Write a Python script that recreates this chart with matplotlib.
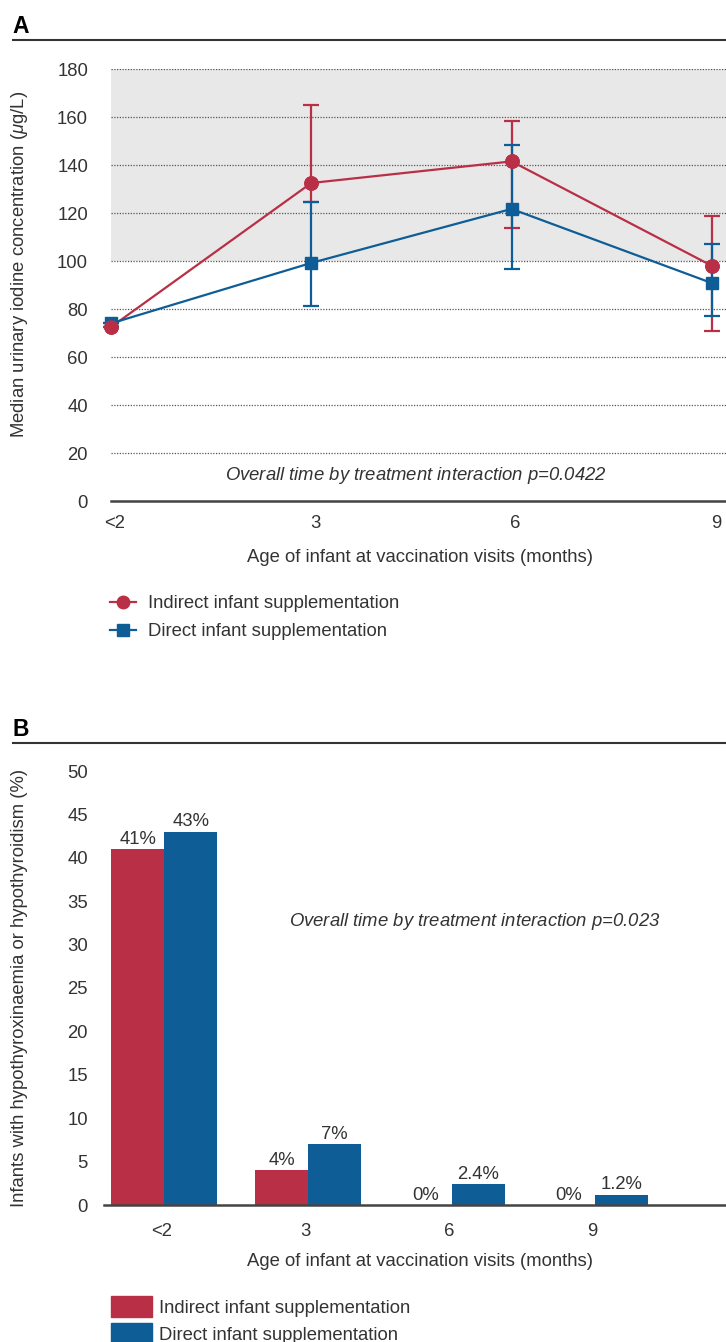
#iodine status of infants by supplementation arm: panel A medians, panel B prevalence

#import necessary
import matplotlib
matplotlib.use('Agg')
from matplotlib import pyplot as plt
from matplotlib.lines import Line2D
from matplotlib.patches import Patch
from matplotlib.transforms import ScaledTranslation

#visits and series values
visits = ['<2', '3', '6', '9']
groups = ['Indirect infant supplementation', 'Direct infant supplementation']

#panel A: median urinary iodine (ug/L) with interquartile whiskers
uic_indirect = [72.5, 132.5, 141.5, 98]
uic_indirect_lo = [72.5, 124.5, 113.7, 71]
uic_indirect_hi = [72.5, 165, 158.3, 118.7]
uic_direct = [74, 99.2, 121.7, 90.8]
uic_direct_lo = [74, 81.3, 96.7, 77]
uic_direct_hi = [74, 124.6, 148.5, 107]

#panel B: infants with hypothyroxinaemia or hypothyroidism (%)
hypo_indirect = [41, 4, 0, 0]
hypo_direct = [43, 7, 2.4, 1.2]

red = '#B92F46'
blue = '#0E5D96'
txt = '#333333'
W, H = 726, 1342
fs = 13.3

plt.rcParams['font.family'] = ['Liberation Sans', 'DejaVu Sans']
plt.rcParams['text.color'] = txt
plt.rcParams['axes.labelcolor'] = txt
plt.rcParams['xtick.color'] = txt
plt.rcParams['ytick.color'] = txt
plt.rcParams['mathtext.fontset'] = 'custom'
plt.rcParams['mathtext.it'] = 'Liberation Sans:italic'
plt.rcParams['mathtext.rm'] = 'Liberation Sans'

fig = plt.figure(figsize=(W/100, H/100), dpi=100)

def fx(px):
    return px/W

def fy(py):
    return 1 - py/H

def header(letter, py):
    fig.text(fx(12), fy(py - 7), letter, fontsize=16.5, fontweight='bold', color='black', va='baseline')
    fig.add_artist(Line2D([fx(13), 1], [fy(py), fy(py)], color='#333333', lw=1.5))

def shift_xlabels(ax, dx):
    off = ScaledTranslation(dx/100, 0, fig.dpi_scale_trans)
    for lab in ax.get_xticklabels():
        lab.set_transform(lab.get_transform() + off)

#----- panel A -----
header('A', 40)
axA = fig.add_axes([fx(111), fy(501), fx(701), (501-69)/H])
axA.set_xlim(0, 3.5)
axA.set_ylim(0, 180)
axA.axhspan(100, 180, color='#E8E8E8', zorder=0, lw=0)
for yv in range(20, 181, 20):
    axA.axhline(yv, color='#555555', lw=0.9, ls=(0, (1, 1.2)), zorder=1)
x = list(range(len(visits)))
err_ind = [[m - lo for m, lo in zip(uic_indirect, uic_indirect_lo)], [hi - m for m, hi in zip(uic_indirect, uic_indirect_hi)]]
err_dir = [[m - lo for m, lo in zip(uic_direct, uic_direct_lo)], [hi - m for m, hi in zip(uic_direct, uic_direct_hi)]]
axA.errorbar(x, uic_indirect, yerr=err_ind, color=red, lw=1.6, marker='o', ms=9.5,
             capsize=6, capthick=1.6, elinewidth=1.6, zorder=3, clip_on=False)
axA.errorbar(x, uic_direct, yerr=err_dir, color=blue, lw=1.6, marker='s', ms=8.5,
             capsize=6, capthick=1.6, elinewidth=1.6, zorder=4, clip_on=False)
#red markers sit over the blue lines
axA.plot(x, uic_indirect, 'o', color=red, ms=9.5, zorder=5, clip_on=False)
axA.set_xticks(x)
axA.set_xticklabels(visits)
axA.set_yticks(range(0, 181, 20))
axA.tick_params(length=0, labelsize=fs, pad=10)
axA.tick_params(axis='y', pad=16.5)
shift_xlabels(axA, 4)
for s in ['top', 'right', 'left']:
    axA.spines[s].set_visible(False)
axA.spines['bottom'].set_color('#444444')
axA.spines['bottom'].set_linewidth(1.8)
axA.text(1.52, 10.8, 'Overall time by treatment interaction $p$=0.0422', fontsize=fs,
         style='italic', ha='center', va='center')
fig.text(fx(20), fy(264), r'Median urinary iodine concentration ($\mu$g/L)', rotation=90,
         fontsize=fs, ha='center', va='center')
fig.text(fx(420), fy(558), 'Age of infant at vaccination visits (months)', fontsize=fs,
         ha='center', va='center')
handlesA = [Line2D([], [], color=red, lw=1.6, marker='o', ms=9),
            Line2D([], [], color=blue, lw=1.6, marker='s', ms=8)]
fig.legend(handlesA, groups, loc='upper left', bbox_to_anchor=(fx(110), fy(595)),
           frameon=False, fontsize=fs, handlelength=1.4, handletextpad=0.65, labelspacing=0.62,
           borderaxespad=0, borderpad=0)

#----- panel B -----
header('B', 743)
axB = fig.add_axes([fx(104), fy(1205), fx(707), (1205-771)/H])
axB.set_xlim(-0.42, 4.5)
axB.set_ylim(0, 50)
bw = 0.369
xb = list(range(len(visits)))
b1 = axB.bar([i - bw/2 for i in xb], hypo_indirect, width=bw, color=red, zorder=2)
b2 = axB.bar([i + bw/2 for i in xb], hypo_direct, width=bw, color=blue, zorder=2)
axB.bar_label(b1, labels=['%g%%' % v for v in hypo_indirect], padding=1, fontsize=fs)
axB.bar_label(b2, labels=['%g%%' % v for v in hypo_direct], padding=1, fontsize=fs)
axB.set_xticks(xb)
axB.set_xticklabels(visits)
axB.set_yticks(range(0, 51, 5))
axB.tick_params(length=0, labelsize=fs, pad=13)
axB.tick_params(axis='y', pad=11.5)
shift_xlabels(axB, -3)
for s in ['top', 'right', 'left']:
    axB.spines[s].set_visible(False)
axB.spines['bottom'].set_color('#444444')
axB.spines['bottom'].set_linewidth(1.8)
axB.spines['bottom'].set_zorder(3)
axB.text(2.157, 32.7, 'Overall time by treatment interaction $p$=0.023', fontsize=fs,
         style='italic', ha='center', va='center')
fig.text(fx(20), fy(988), 'Infants with hypothyroxinaemia or hypothyroidism (%)', rotation=90,
         fontsize=fs, ha='center', va='center')
fig.text(fx(420), fy(1262), 'Age of infant at vaccination visits (months)', fontsize=fs,
         ha='center', va='center')
handlesB = [Patch(color=red), Patch(color=blue)]
fig.legend(handlesB, groups, loc='upper left', bbox_to_anchor=(fx(111), fy(1296)),
           frameon=False, fontsize=fs, handlelength=2.2, handleheight=1.4, handletextpad=0.4,
           labelspacing=0.3, borderaxespad=0, borderpad=0)

fig.savefig('out.png', dpi=100)
